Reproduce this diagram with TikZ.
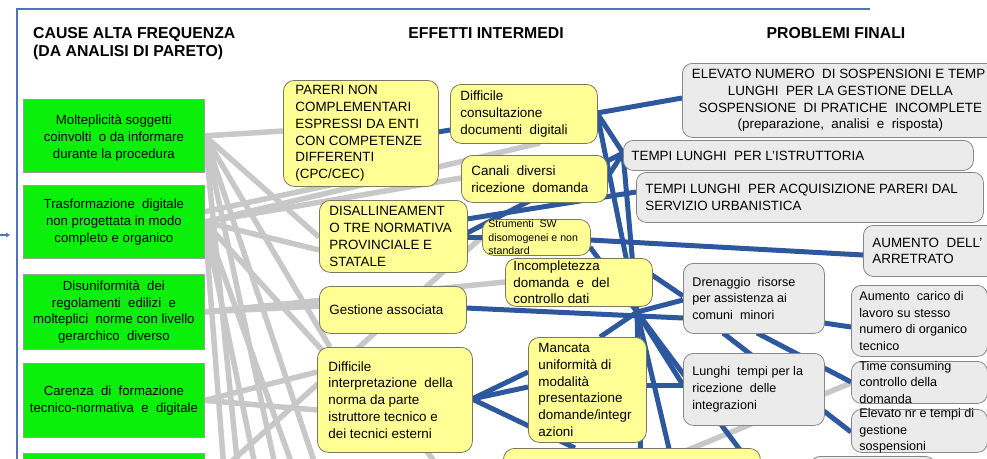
\documentclass[tikz,border=0pt]{standalone}
\usepackage{fontspec}
\setmainfont{Liberation Sans}
\usetikzlibrary{arrows.meta}
\pgfdeclarelayer{bg}
\pgfsetlayers{bg,main}
\definecolor{gfill}{RGB}{10,240,10}
\definecolor{gbord}{RGB}{150,160,150}
\definecolor{yfill}{RGB}{255,255,150}
\definecolor{ybord}{RGB}{120,120,95}
\definecolor{kfill}{RGB}{235,235,235}
\definecolor{kbord}{RGB}{135,135,135}
\definecolor{bline}{RGB}{46,88,158}
\definecolor{gline}{RGB}{200,200,200}
\definecolor{framecol}{RGB}{80,115,185}
\tikzset{
 greenbox/.style={draw=gbord, fill=gfill, line width=0.8pt, font=\fontsize{13.2}{16.7}\selectfont},
 yelbox/.style={draw=ybord, fill=yfill, line width=0.8pt, rounded corners=11pt, font=\fontsize{13.4}{16.7}\selectfont},
 graybox/.style={draw=kbord, fill=kfill, line width=0.8pt, rounded corners=10pt, font=\fontsize{13.4}{16.7}\selectfont},
 smallfont/.style={font=\fontsize{12.6}{16.7}\selectfont},
 tinyfont/.style={font=\fontsize{10.6}{13.7}\selectfont},
 bluelink/.style={draw=bline, line width=5pt},
 graylink/.style={draw=gline, line width=5.5pt},
 header/.style={font=\fontsize{15.8}{18}\selectfont\bfseries, inner sep=0pt},
 framelink/.style={draw=framecol, line width=1.2pt},
}
\newcommand\bx[8]{\node[#1, anchor=north west, inner xsep=#7pt, inner ysep=0pt, minimum width=#5pt, minimum height=#6pt] (#2) at (#3,-#4) {\parbox[c][#6pt][c]{\dimexpr#5pt-#7pt-#7pt\relax}{\raggedright #8}};}
\begin{document}
\begin{tikzpicture}[x=1pt,y=1pt]
\useasboundingbox (0,0) rectangle (987,-458);
% frame
\coordinate (fa) at (17,-470);
\coordinate (fb) at (17,-9);
\coordinate (fc) at (870,-9);
\draw[framelink] (fa) -- (fb) -- (fc);
\coordinate (ar0) at (0,-235);
\coordinate (ar1) at (10,-235);
\draw[framelink, -{Triangle[length=4pt,width=4.5pt]}] (ar0) -- (ar1);
% headers
\node[header, anchor=base west] (h1a) at (33,-38) {CAUSE ALTA FREQUENZA};
\node[header, anchor=base west] (h1b) at (33,-56) {(DA ANALISI DI PARETO)};
\node[header, anchor=base] (h2) at (486,-38) {EFFETTI INTERMEDI};
\node[header, anchor=base] (h3) at (836,-38) {PROBLEMI FINALI};
% green boxes
\bx{greenbox}{G1}{23}{99}{181}{73}{5}{\centering \vspace*{4pt}Molteplicità soggetti\\coinvolti\ \ o da informare\\durante la procedura}
\bx{greenbox}{G2}{23}{185}{181}{73}{5}{\centering Trasformazione\ \ digitale\\non progettata in modo\\completo e organico}
\bx{greenbox}{G3}{23}{274}{181}{75}{5}{\centering Disuniformità\ \ dei\\regolamenti\ \ edilizi\ \ e\\molteplici\ \ norme con livello\\gerarchico\ \ diverso}
\bx{greenbox}{G4}{23}{363}{181}{74}{5}{\centering Carenza\ \ di\ \ formazione\\tecnico-normativa\ \ e\ \ digitale}
\bx{greenbox}{G5}{23}{453}{181}{70}{5}{}
% yellow boxes
\bx{yelbox}{A}{283}{80}{155}{106}{12}{PARERI NON\\COMPLEMENTARI\\ESPRESSI DA ENTI\\CON COMPETENZE\\DIFFERENTI\\(CPC/CEC)}
\bx{yelbox}{B}{450}{84}{147}{59}{10}{Difficile\\consultazione\\documenti\ \ digitali}
\bx{yelbox}{C}{461}{155}{146}{47}{10}{Canali\ \ diversi\\ricezione\ \ domanda}
\bx{yelbox}{D}{319}{200}{148}{72}{10}{DISALLINEAMENT\\O TRE NORMATIVA\\PROVINCIALE E\\STATALE}
\bx{yelbox,tinyfont}{E}{482}{219}{108}{36}{6}{Strumenti\ \ SW\\disomogenei e non\\standard}
\bx{yelbox}{F}{505}{258}{147}{48}{8}{Incompletezza\\domanda\ \ e\ \ del\\controllo dati}
\bx{yelbox}{G}{319}{286}{147}{47}{10}{Gestione associata}
\bx{yelbox}{H}{317}{347}{155}{105}{11}{Difficile\\interpretazione\ \ della\\norma da parte\\istruttore tecnico e\\dei tecnici esterni}
\bx{yelbox}{I}{528}{337}{118}{105}{10}{Mancata\\uniformità di\\modalità\\presentazione\\domande/integr\\azioni}
\bx{yelbox}{J}{503}{448}{257}{40}{10}{}
% gray boxes
\bx{graybox}{K}{682}{63}{316}{74}{8}{\centering ELEVATO NUMERO\ \ DI SOSPENSIONI E TEMP\phantom{I}\\LUNGHI\ \ PER LA GESTIONE DELLA\\SOSPENSIONE\ \ DI PRATICHE\ \ INCOMPLETE\\(preparazione,\ \ analisi\ \ e\ \ risposta)}
\bx{graybox}{L}{623}{140}{350}{30}{8}{TEMPI LUNGHI\ \ PER L’ISTRUTTORIA}
\bx{graybox}{M}{636}{172}{347}{50}{9}{TEMPI LUNGHI\ \ PER ACQUISIZIONE PARERI DAL\\SERVIZIO URBANISTICA}
\bx{graybox}{N}{863}{225}{140}{51}{9}{AUMENTO\ \ DELL’\\ARRETRATO}
\bx{graybox,smallfont}{O}{683}{263}{141}{70}{9}{Drenaggio\ \ risorse\\per assistenza ai\\comuni\ \ minori}
\bx{graybox,smallfont}{P}{851}{285}{136}{71}{8}{Aumento\ \ carico di\\lavoro su stesso\\numero di organico\\tecnico}
\bx{graybox,smallfont}{Q}{683}{353}{141}{72}{9}{Lunghi\ \ tempi per la\\ricezione\ \ delle\\integrazioni}
\bx{graybox,smallfont}{R}{851}{361}{136}{42}{8}{Time consuming\\controllo della\\domanda}
\bx{graybox,smallfont}{S}{851}{409}{136}{43}{8}{Elevato nr e tempi di\\gestione\\sospensioni}
\bx{graybox}{T}{810}{456}{125}{40}{8}{}
% free ends and hub
\coordinate (hub) at ([shift={(132,-54)}]F.north west);
\coordinate (e1) at (238,-470);
\coordinate (e2) at (276,-470);
\coordinate (e3) at (317,-470);
\coordinate (e4) at (224,-470);
\coordinate (e5) at (256,-470);
\coordinate (e6) at (294,-470);
\coordinate (e7) at (440,-470);
\coordinate (e8) at (639,-470);
\coordinate (e9) at (641,-470);
\coordinate (e10) at (674,-470);
\coordinate (e11) at (770,-490);
\begin{pgfonlayer}{bg}
% gray connectors
\draw[graylink] (G1.east) -- ([shift={(0,-51)}]A.north west);
\draw[graylink] (G1.east) -- ([shift={(0,-37)}]D.north west);
\draw[graylink] (G1.east) -- ([shift={(13,0)}]H.north west);
\draw[graylink] (G1.east) -- (e1);
\draw[graylink] (G1.east) -- (e2);
\draw[graylink] (G1.east) -- (e3);
\draw[graylink] (G2.east) -- ([shift={(90,-59)}]B.north west);
\draw[graylink] (G2.east) -- ([shift={(0,-23)}]C.north west);
\draw[graylink] (G2.east) -- ([shift={(0,-50)}]D.north west);
\draw[graylink] (G2.east) -- ([shift={(5,-3)}]H.north west);
\draw[graylink] ([shift={(181,-27)}]G2.north west) -- ([shift={(117,-90)}]A.north west);
\draw[graylink] (G2.east) -- (e4);
\draw[graylink] (G2.east) -- (e5);
\draw[graylink] (G2.east) -- (e6);
\draw[graylink] (G3.east) -- ([shift={(0,-20)}]G.north west);
\draw[graylink] (G3.east) -- ([shift={(0,-24)}]F.north west);
\draw[graylink] (G4.east) -- ([shift={(0,-25)}]H.north west);
\draw[graylink] (G4.east) -- ([shift={(0,-63)}]H.north west);
\draw[graylink] ([shift={(181,-33)}]G5.north west) -- ([shift={(0,-18)}]E.north west);
\draw[graylink] ([shift={(100,-90)}]H.north west) -- (e7);
\draw[graylink] ([shift={(0,-22)}]R.north west) -- (e8);
% blue connectors
\draw[bluelink] ([shift={(155,-52)}]A.north west) -- ([shift={(0,-46)}]B.north west);
\draw[bluelink] ([shift={(147,-29)}]B.north west) -- ([shift={(0,-35)}]K.north west);
\draw[bluelink] ([shift={(147,-29)}]B.north west) -- ([shift={(0,-13)}]L.north west);
\draw[bluelink] ([shift={(147,-29)}]B.north west) -- (hub);
\draw[bluelink] ([shift={(146,-23)}]C.north west) -- ([shift={(0,-13)}]L.north west);
\draw[bluelink] ([shift={(0,-13)}]L.north west) -- (hub);
\draw[bluelink] ([shift={(148,-33)}]D.north west) -- ([shift={(0,-13)}]L.north west);
\draw[bluelink] ([shift={(148,-37)}]D.north west) -- ([shift={(0,-18)}]E.north west);
\draw[bluelink] ([shift={(148,-19)}]D.north west) -- ([shift={(0,-20)}]M.north west);
\draw[bluelink] ([shift={(108,-21)}]E.north west) -- ([shift={(0,-30)}]N.north west);
\draw[bluelink] ([shift={(108,-28)}]E.north west) -- (hub);
\draw[bluelink] ([shift={(147,-17)}]F.north west) -- ([shift={(0,-33)}]O.north west);
\draw[bluelink] ([shift={(147,-22)}]G.north west) -- ([shift={(0,-55)}]O.north west);
\draw[bluelink] (hub) -- ([shift={(0,-37)}]O.north west);
\draw[bluelink] (hub) -- ([shift={(0,-32)}]Q.north west);
\draw[bluelink] (hub) -- (e9);
\draw[bluelink] (hub) -- (e10);
\draw[bluelink] (hub) -- (e11);
\draw[bluelink] ([shift={(72,0)}]I.north west) -- (hub);
\draw[bluelink] ([shift={(118,-48)}]I.north west) -- ([shift={(0,-32)}]Q.north west);
\draw[bluelink] ([shift={(155,-52)}]H.north west) -- ([shift={(0,-35)}]I.north west);
\draw[bluelink] ([shift={(155,-52)}]H.north west) -- ([shift={(0,-50)}]I.north west);
\draw[bluelink] ([shift={(155,-52)}]H.north west) -- ([shift={(72,0)}]J.north west);
\draw[bluelink] ([shift={(141,-60)}]O.north west) -- ([shift={(0,-42)}]P.north west);
\draw[bluelink] ([shift={(74,-70)}]O.north west) -- ([shift={(0,-21)}]R.north west);
\draw[bluelink] ([shift={(40,-70)}]O.north west) -- ([shift={(0,-23)}]S.north west);
\end{pgfonlayer}
\end{tikzpicture}
\end{document}
